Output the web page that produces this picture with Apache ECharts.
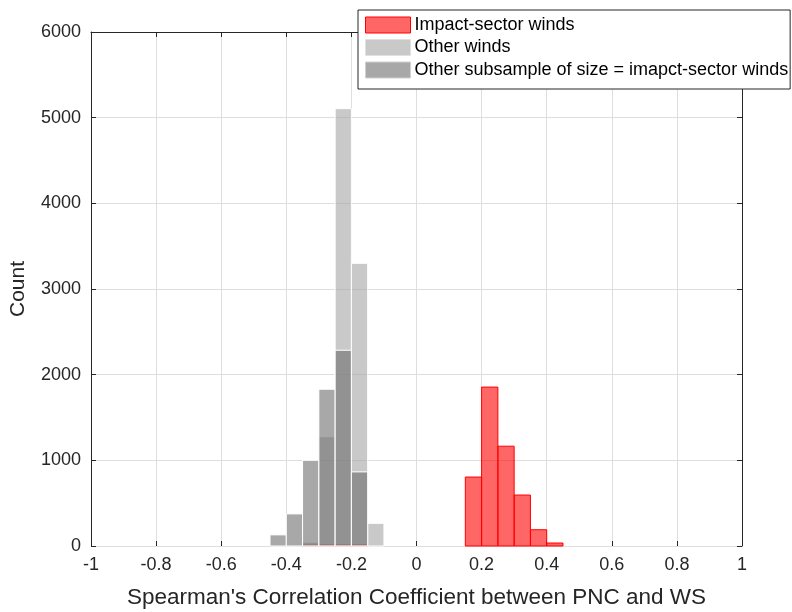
<!DOCTYPE html>
<html>
<head>
<meta charset="utf-8">
<title>Spearman correlation histogram</title>
<script src="https://cdn.jsdelivr.net/npm/echarts@6/dist/echarts.min.js"></script>
<style>
  html, body { margin: 0; padding: 0; background: #ffffff; }
  #chart { width: 792px; height: 612px; }
</style>
</head>
<body>
<div id="chart"></div>
<script>
// Histogram bin edges (width 0.05) shared by all three histograms
const binEdges = [-0.45, -0.40, -0.35, -0.30, -0.25, -0.20, -0.15, -0.10, -0.05,
                  0.00, 0.05, 0.10, 0.15, 0.20, 0.25, 0.30, 0.35, 0.40, 0.45];

// Counts per bin
const impactCounts    = [0, 0, 10, 12, 12, 12, 0, 0, 0, 0, 0, 0, 805, 1855, 1165, 595, 190, 35];
const otherCounts     = [0, 0, 45, 1275, 5105, 3300, 265, 0, 0, 0, 0, 0, 0, 0, 0, 0, 0, 0];
const subsampleCounts = [130, 375, 1000, 1830, 2285, 865, 0, 0, 0, 0, 0, 0, 0, 0, 0, 0, 0, 0];

const seriesNames = [
  'Impact-sector winds',
  'Other winds',
  'Other subsample of size = imapct-sector winds'
];

const xLabel = "Spearman's Correlation Coefficient between PNC and WS";
const yLabel = 'Count';

const FONT = "'Liberation Sans', Arial, Helvetica, sans-serif";
const AX = '#262626';

function binsToData(counts) {
  const out = [];
  for (let i = 0; i < counts.length; i++) {
    if (counts[i] > 0) out.push([binEdges[i], binEdges[i + 1], counts[i]]);
  }
  return out;
}

function barRenderer(fill, stroke) {
  return function (params, api) {
    const x0 = api.value(0), x1 = api.value(1), c = api.value(2);
    const pTop = api.coord([x0, c]);
    const pBase = api.coord([x1, 0]);
    return {
      type: 'rect',
      shape: { x: pTop[0], y: pTop[1], width: pBase[0] - pTop[0], height: pBase[1] - pTop[1] },
      style: { fill: fill, stroke: stroke, lineWidth: 1 }
    };
  };
}

const styles = [
  { fill: 'rgba(255,0,0,0.6)', stroke: '#ff0000', legendFill: '#ff6666', legendStroke: '#ff0000' },
  { fill: 'rgba(165,165,165,0.6)', stroke: '#ffffff', legendFill: '#c9c9c9', legendStroke: '#e0e0e0' },
  { fill: 'rgba(110,110,110,0.6)', stroke: '#ffffff', legendFill: '#a8a8a8', legendStroke: '#d0d0d0' }
];

const countSets = [impactCounts, otherCounts, subsampleCounts];

const chart = echarts.init(document.getElementById('chart'), null, { renderer: 'canvas' });

const tickLabel = { color: AX, fontSize: 18, fontFamily: FONT };

chart.setOption({
  animation: false,
  backgroundColor: '#ffffff',
  grid: { left: 91, right: 50, top: 32, bottom: 66, containLabel: false, outerBoundsMode: 'none' },
  legend: {
    orient: 'vertical',
    left: 358,
    top: 10,
    padding: [6, 2, 10, 7],
    itemGap: 4.5,
    itemWidth: 45,
    itemHeight: 16,
    icon: 'rect',
    borderColor: AX,
    borderWidth: 1,
    borderRadius: 0,
    backgroundColor: '#ffffff',
    textStyle: { color: '#000000', fontSize: 18, fontFamily: FONT, padding: [0, 0, 0, -1] },
    selectedMode: false,
    data: seriesNames.map((n, i) => ({
      name: n,
      itemStyle: { color: styles[i].legendFill, borderColor: styles[i].legendStroke, borderWidth: 1 }
    }))
  },
  xAxis: [
    {
      type: 'value', position: 'bottom', min: -1, max: 1, interval: 0.2,
      axisLine: { show: false },
      axisTick: { show: true, inside: true, length: 5, lineStyle: { color: AX } },
      axisLabel: Object.assign({ margin: 10, formatter: v => String(Math.round(v * 10) / 10) }, tickLabel),
      splitLine: { show: true, lineStyle: { color: '#dedede', width: 1 } },
      name: xLabel,
      nameLocation: 'middle',
      nameGap: 40,
      nameTextStyle: { color: AX, fontSize: 22.5, fontFamily: FONT }
    },
    {
      type: 'value', position: 'top', min: -1, max: 1, interval: 0.2,
      axisLine: { show: true, onZero: false, lineStyle: { color: AX, width: 1 } },
      axisTick: { show: true, inside: true, length: 5, lineStyle: { color: AX } },
      axisLabel: { show: false },
      splitLine: { show: false }
    }
  ],
  yAxis: [
    {
      type: 'value', position: 'left', min: 0, max: 6000, interval: 1000,
      axisLine: { show: true, onZero: false, lineStyle: { color: AX, width: 1 } },
      axisTick: { show: true, inside: true, length: 5, lineStyle: { color: AX } },
      axisLabel: Object.assign({ margin: 10, formatter: v => String(v) }, tickLabel),
      splitLine: { show: true, lineStyle: { color: '#dedede', width: 1 } },
      name: yLabel,
      nameLocation: 'middle',
      nameGap: 62,
      nameTextStyle: { color: AX, fontSize: 21, fontFamily: FONT }
    },
    {
      type: 'value', position: 'right', min: 0, max: 6000, interval: 1000,
      axisLine: { show: true, onZero: false, lineStyle: { color: AX, width: 1 } },
      axisTick: { show: true, inside: true, length: 5, lineStyle: { color: AX } },
      axisLabel: { show: false },
      splitLine: { show: false }
    }
  ],
  series: countSets.map((counts, i) => ({
    name: seriesNames[i],
    type: 'custom',
    xAxisIndex: 0,
    yAxisIndex: 0,
    renderItem: barRenderer(styles[i].fill, styles[i].stroke),
    encode: { x: [0, 1], y: 2 },
    itemStyle: { color: styles[i].legendFill },
    data: binsToData(counts),
    z: 2 + i
  }))
});
</script>
</body>
</html>
